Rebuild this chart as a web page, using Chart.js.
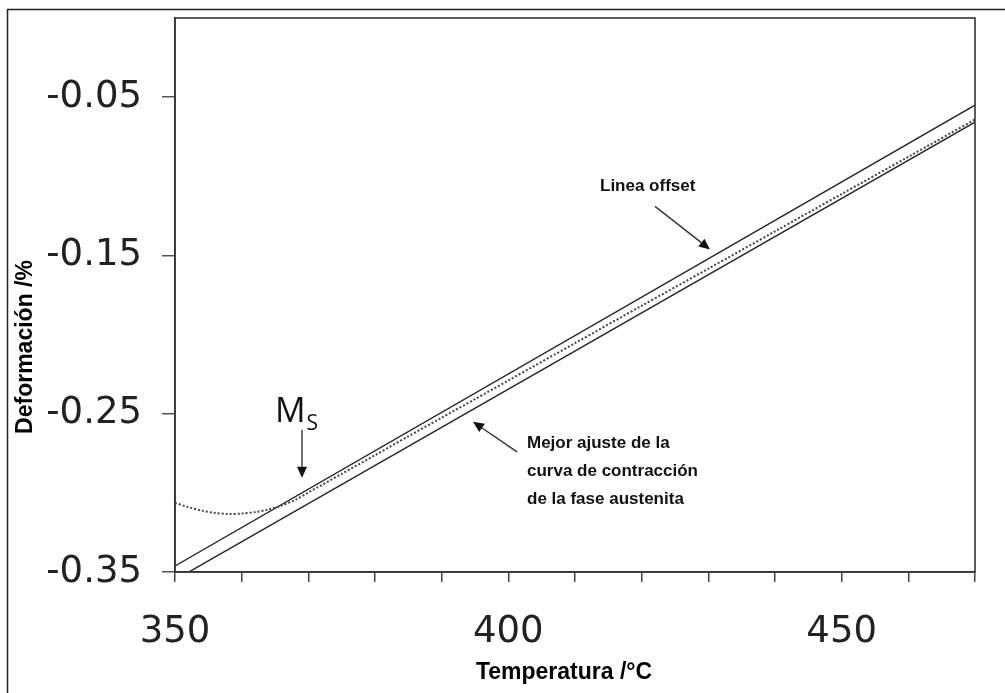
<!DOCTYPE html>
<html>
<head>
<meta charset="utf-8">
<script src="https://cdn.jsdelivr.net/npm/chart.js@4.4.1/dist/chart.umd.min.js"></script>
<style>
  html, body { margin: 0; padding: 0; background: #fff; }
  #wrap { position: relative; width: 1005px; height: 693px; }
</style>
</head>
<body>
<div id="wrap"><canvas id="dilatChart" width="1005" height="693"></canvas></div>
<script>
// measured dilatometry curve (dotted)
var tempData = [350, 352, 354, 356, 358, 360, 362, 364, 366, 368, 370, 375, 380, 385, 390, 395, 400, 410, 420, 430, 440, 450, 460, 470];
var strainData = [-0.3063, -0.3090, -0.3112, -0.3127, -0.3133, -0.3131, -0.3122, -0.3105, -0.3080, -0.3045, -0.2998, -0.2880, -0.2762, -0.2643, -0.2525, -0.2408, -0.2290, -0.2054, -0.1818, -0.1584, -0.1348, -0.1112, -0.0877, -0.0641];
// offset line
var offsetTemp = [350, 470];
var offsetStrain = [-0.3462, -0.0551];
// best fit of austenite contraction
var fitTemp = [350, 470];
var fitStrain = [-0.3550, -0.0658];
// axes
var xTicks = [350, 360, 370, 380, 390, 400, 410, 420, 430, 440, 450, 460, 470];
var xTickLabels = ['350', '', '', '', '', '400', '', '', '', '', '450', '', ''];
var yTicks = [-0.35, -0.25, -0.15, -0.05];
var yTickLabels = ['-0.35', '-0.25', '-0.15', '-0.05'];

function toPoints(xs, ys) {
    return xs.map(function(x, i) { return {x: x, y: ys[i]}; });
}

function arrow(ctx, x1, y1, x2, y2) {
    var a = Math.atan2(y2 - y1, x2 - x1);
    var hl = 11, hw = 5;
    ctx.beginPath();
    ctx.moveTo(x1, y1);
    ctx.lineTo(x2 - hl * Math.cos(a), y2 - hl * Math.sin(a));
    ctx.stroke();
    ctx.beginPath();
    ctx.moveTo(x2, y2);
    ctx.lineTo(x2 - hl * Math.cos(a) + hw * Math.sin(a), y2 - hl * Math.sin(a) - hw * Math.cos(a));
    ctx.lineTo(x2 - hl * Math.cos(a) - hw * Math.sin(a), y2 - hl * Math.sin(a) + hw * Math.cos(a));
    ctx.closePath();
    ctx.fill();
}

var decoPlugin = {
    id: 'deco',
    afterDraw: function(chart) {
        var ctx = chart.ctx;
        var xs = chart.scales.x, ys = chart.scales.y, ca = chart.chartArea;
        var X = function(v) { return xs.getPixelForValue(v); };
        var Y = function(v) { return ys.getPixelForValue(v); };
        ctx.save();
        // outer frame
        ctx.strokeStyle = '#222';
        ctx.lineWidth = 1.5;
        ctx.beginPath();
        ctx.moveTo(7.5, 693);
        ctx.lineTo(7.5, 9.5);
        ctx.lineTo(1005, 9.5);
        ctx.stroke();
        // plot box
        ctx.strokeStyle = '#333';
        ctx.lineWidth = 1.6;
        ctx.strokeRect(ca.left, ca.top, ca.right - ca.left, ca.bottom - ca.top);

        ctx.fillStyle = '#111';
        ctx.strokeStyle = '#333';
        ctx.lineWidth = 1.4;
        // Ms
        ctx.font = '34px "Open Sans"';
        ctx.textBaseline = 'alphabetic';
        ctx.textAlign = 'left';
        var mx = X(365.0);
        ctx.fillText('M', mx, Y(-0.2551));
        var mw = ctx.measureText('M').width;
        ctx.font = '21px "Open Sans"';
        ctx.fillText('S', mx + mw + 1, Y(-0.2601));
        arrow(ctx, X(369.05), Y(-0.2601), X(369.05), Y(-0.2905));

        // Linea offset
        ctx.font = 'bold 17px "Liberation Sans"';
        ctx.textBaseline = 'middle';
        ctx.fillText('Linea offset', X(413.75), Y(-0.1063));
        arrow(ctx, X(422.0), Y(-0.1190), X(430.25), Y(-0.1462));

        // Mejor ajuste
        var lines = ['Mejor ajuste de la', 'curva de contracción', 'de la fase austenita'];
        var ly = [-0.2684, -0.2864, -0.3041];
        lines.forEach(function(t, i) { ctx.fillText(t, X(402.8), Y(ly[i])); });
        arrow(ctx, X(401.3), Y(-0.2741), X(394.7), Y(-0.2551));

        // axis titles
        ctx.fillStyle = '#000';
        ctx.font = 'bold 23px "Liberation Sans"';
        ctx.textAlign = 'center';
        ctx.fillText('Temperatura /°C', 564, 673);
        ctx.translate(26, 347);
        ctx.rotate(-Math.PI / 2);
        ctx.fillText('Deformación /%', 0, 0);
        ctx.restore();
    }
};

document.addEventListener('DOMContentLoaded', function() {
    var ctx = document.getElementById('dilatChart').getContext('2d');
    new Chart(ctx, {
        type: 'line',
        data: {
            datasets: [{
                label: 'Medida',
                data: toPoints(tempData, strainData),
                borderColor: '#444',
                borderWidth: 2,
                borderDash: [2, 2],
                pointRadius: 0,
                tension: 0.3
            }, {
                label: 'Linea offset',
                data: toPoints(offsetTemp, offsetStrain),
                borderColor: '#222',
                borderWidth: 1.4,
                pointRadius: 0
            }, {
                label: 'Mejor ajuste',
                data: toPoints(fitTemp, fitStrain),
                borderColor: '#222',
                borderWidth: 1.4,
                pointRadius: 0
            }]
        },
        options: {
            responsive: false,
            animation: false,
            layout: { padding: { left: 0, right: 30, top: 18, bottom: 0 } },
            plugins: { legend: { display: false }, tooltip: { enabled: false } },
            scales: {
                x: {
                    type: 'linear',
                    min: 350,
                    max: 470,
                    afterBuildTicks: function(s) { s.ticks = xTicks.map(function(v) { return {value: v}; }); },
                    afterFit: function(s) { s.height = 121; s.paddingLeft = 0; s.paddingRight = 0; },
                    grid: { drawOnChartArea: false, drawTicks: true, tickLength: 10, color: '#444', lineWidth: 1.5 },
                    border: { color: '#333', width: 1.6 },
                    ticks: {
                        autoSkip: false,
                        maxRotation: 0,
                        padding: 28,
                        color: '#222',
                        font: { family: 'DejaVu Sans', size: 37 },
                        callback: function(v, i) { return xTickLabels[i]; }
                    }
                },
                y: {
                    type: 'linear',
                    min: -0.35,
                    max: 0,
                    afterBuildTicks: function(s) { s.ticks = yTicks.map(function(v) { return {value: v}; }); },
                    afterFit: function(s) { s.width = 175; s.paddingTop = 0; s.paddingBottom = 0; },
                    grid: { drawOnChartArea: false, drawTicks: true, tickLength: 13, color: '#555', lineWidth: 1.5 },
                    border: { color: '#333', width: 1.6 },
                    ticks: {
                        autoSkip: false,
                        padding: 20,
                        color: '#222',
                        font: { family: 'DejaVu Sans', size: 37 },
                        callback: function(v, i) { return yTickLabels[i]; }
                    }
                }
            }
        },
        plugins: [decoPlugin]
    });
});
</script>
</body>
</html>
